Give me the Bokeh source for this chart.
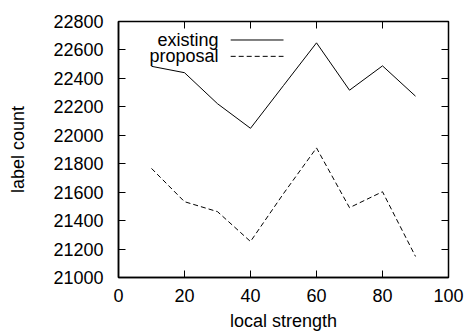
from bokeh.plotting import figure
from bokeh.models import LinearAxis, FixedTicker, Range1d, CustomLabelingPolicy
from bokeh.embed import file_html
from bokeh.resources import INLINE
from bokeh.core.properties import value

# ---- data ----
strength = [10, 20, 30, 40, 50, 60, 70, 80, 90]
existing = [22485, 22440, 22222, 22049, 22350, 22650, 22317, 22488, 22275]
proposal = [21767, 21533, 21463, 21253, 21590, 21911, 21491, 21603, 21148]
x_ticks = [0, 20, 40, 60, 80, 100]
y_ticks = [21000, 21200, 21400, 21600, 21800, 22000, 22200, 22400, 22600, 22800]
series_names = ["existing", "proposal"]

FONT = "Liberation Sans"
FS = "18px"

p = figure(width=467, height=333, output_backend="svg", toolbar_location=None,
           x_range=Range1d(0, 100), y_range=Range1d(21000, 22800),
           min_border_left=118, min_border_right=19, min_border_top=21, min_border_bottom=55,
           x_axis_label="local strength", y_axis_label="label count")
p.grid.visible = False
p.background_fill_color = "white"
p.border_fill_color = "white"
p.outline_line_color = "black"
p.outline_line_width = 1.5

for ax in p.xaxis + p.yaxis:
    ax.major_tick_in = 7
    ax.major_tick_out = 0
    ax.minor_tick_in = 0
    ax.minor_tick_out = 0
    ax.axis_line_color = "black"
    ax.axis_line_width = 1.5
    ax.major_tick_line_color = "black"
    ax.major_label_text_font = FONT
    ax.major_label_text_font_size = FS
    ax.major_label_text_color = "black"
    ax.axis_label_text_font = FONT
    ax.axis_label_text_font_size = FS
    ax.axis_label_text_font_style = "normal"
    ax.axis_label_text_color = "black"

p.xaxis.ticker = FixedTicker(ticks=x_ticks)
p.yaxis.ticker = FixedTicker(ticks=y_ticks)
p.xaxis.major_label_standoff = 11
p.xaxis.axis_label_standoff = 6
p.yaxis.major_label_standoff = 15
p.yaxis.axis_label_standoff = 22

# mirrored ticks on top and right (no labels drawn)
hide_all = "for (const i of indices) indices.unset(i); return indices"
top = LinearAxis(ticker=FixedTicker(ticks=x_ticks[1:-1]), major_tick_in=7, major_tick_out=0,
                 minor_tick_in=0, minor_tick_out=0, major_label_text_font_size="0px",
                 major_label_standoff=0, axis_line_color=None,
                 major_label_policy=CustomLabelingPolicy(code=hide_all))
right = LinearAxis(ticker=FixedTicker(ticks=y_ticks[1:-1]), major_tick_in=7, major_tick_out=0,
                   minor_tick_in=0, minor_tick_out=0, major_label_text_font_size="0px",
                   major_label_standoff=0, axis_line_color=None,
                   major_label_policy=CustomLabelingPolicy(code=hide_all))
p.add_layout(top, "above")
p.add_layout(right, "right")

# data lines
p.line(strength, existing, line_color="black", line_width=1)
p.line(strength, proposal, line_color="black", line_width=1, line_dash="5 3")

# legend (text on the left, line sample on the right)
leg_text_x = 30.3
leg_line_x0, leg_line_x1 = 34.0, 50.0
leg_y = [22670, 22555]
p.text(x=[leg_text_x, leg_text_x], y=leg_y, text=series_names,
       text_font=value(FONT), text_font_size=FS, text_align="right",
       text_baseline="middle", text_color="black")
p.segment(x0=[leg_line_x0], y0=[leg_y[0]], x1=[leg_line_x1], y1=[leg_y[0]],
          line_color="black", line_width=1)
p.segment(x0=[leg_line_x0], y0=[leg_y[1]], x1=[leg_line_x1], y1=[leg_y[1]],
          line_color="black", line_width=1, line_dash="5 3")

open("out.html", "w").write(file_html(p, INLINE))
